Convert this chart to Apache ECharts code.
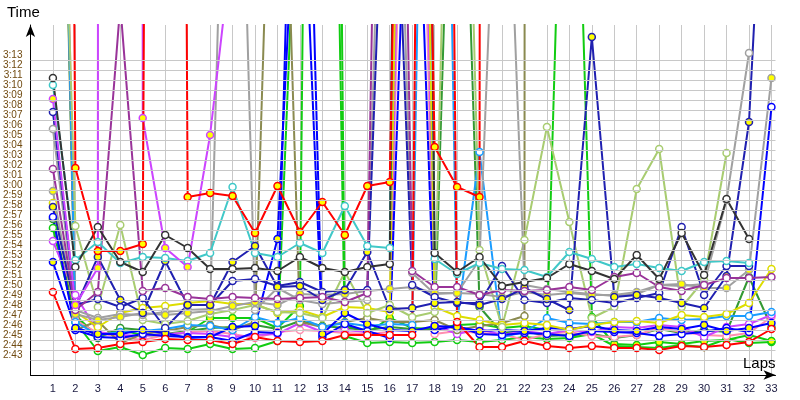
<!DOCTYPE html>
<html>
<head>
<meta charset="utf-8">
<script src="https://cdn.jsdelivr.net/npm/echarts@6.0.0/dist/echarts.min.js"></script>
<style>
  html, body { margin: 0; padding: 0; background: #fff; }
  #chart { width: 800px; height: 400px; }
</style>
</head>
<body>
<div id="chart"></div>
<script>
// lap numbers (x axis)
const laps = [1, 2, 3, 4, 5, 6, 7, 8, 9, 10, 11, 12, 13, 14, 15, 16, 17, 18, 19, 20, 21, 22, 23, 24, 25, 26, 27, 28, 29, 30, 31, 32, 33]

// y tick labels, in seconds (2:43 .. 3:13)
const timeTicks = [163, 164, 165, 166, 167, 168, 169, 170, 171, 172, 173, 174, 175, 176, 177, 178, 179, 180, 181, 182, 183, 184, 185, 186, 187, 188, 189, 190, 191, 192, 193]

// lap times in seconds, one array per car (pit laps run off the top)
const redWhite = [169.8, 164.1, 164.2, 164.6, 164.8, 165.1, 165.0, 165.0, 164.6, 165.3, 164.9, 164.8, 164.9, 165.5, 165.5, 165.5, 165.5, 400, 166.8, 164.3, 164.3, 164.9, 164.4, 164.2, 164.4, 164.2, 164.2, 164.0, 164.4, 164.3, 164.5, 164.8, 166.1]
const redYellow = [500, 182.2, 173.9, 173.9, 174.6, 600, 179.3, 179.7, 179.4, 175.7, 180.4, 175.8, 178.8, 175.5, 180.4, 180.8, 300, 184.3, 180.3, 179.3, 3000, null, null, null, null, null, null, null, null, null, null, null, null]
const greenWhite = [176.2, 166.8, 163.9, 164.3, 163.5, 164.2, 164.1, 164.6, 164.1, 164.2, 164.9, 220, 300, 165.4, 164.7, 164.8, 164.7, 164.8, 165.0, 164.8, 165.0, 165.3, 165.1, 165.2, 165.6, 164.4, 164.3, 164.2, 164.5, 164.3, 165.1, 164.7, 164.8]
const greenYellow = [265, 167.5, 165.3, 166.0, 165.5, 165.4, 165.8, 167.2, 167.2, 167.2, 166.2, 168.4, 400, 166.5, 165.7, 167.2, 166.2, 166.1, 166.5, 166.6, 166.2, 166.4, 166.0, 243, 167.3, 164.6, 164.5, 164.8, 164.6, 164.9, 165.0, 165.5, 164.9]
const blueWhite = [177.3, 166.0, 165.3, 165.2, 165.6, 165.4, 165.3, 165.3, 164.9, 165.8, 165.7, 250, 165.3, 166.6, 165.9, 165.2, 230, 166.0, 166.4, 165.6, 165.5, 165.7, 165.6, 165.4, 165.9, 165.8, 165.7, 165.4, 165.6, 165.8, 166.2, 165.8, 188.3]
const blueYellow = [172.8, 166.2, 165.6, 165.6, 166.0, 165.7, 165.2, 165.3, 166.3, 166.4, 175.1, 220, 165.6, 167.7, 166.6, 166.0, 165.9, 166.4, 166.3, 165.9, 166.0, 165.9, 166.2, 166.1, 166.4, 166.0, 165.9, 166.3, 166.1, 166.5, 165.9, 166.2, 166.7]
const navyWhite = [187.8, 168.5, 169.1, 168.3, 169.2, 166.2, 168.5, 168.5, 170.9, 171.1, 170.4, 170.8, 169.8, 170.0, 170.0, 230, 170.5, 169.3, 168.7, 168.7, 172.4, 169.0, 168.7, 169.2, 169.0, 168.7, 169.2, 169.7, 176.3, 169.5, 172.4, 172.4, null]
const navyYellow = [178.3, 168.2, 173.3, 169.0, 167.7, 172.9, 168.5, 168.5, 172.8, 174.4, 170.3, 170.4, 169.0, 170.0, 173.8, 168.1, 168.2, 168.7, 168.8, 168.5, 169.1, 170.2, 169.1, 168.0, 195.3, 169.3, 169.5, 169.2, 168.7, 168.2, 171.4, 186.8, 230]
const cyanWhite = [190.5, 173.0, 174.8, 172.7, 173.3, 173.2, 172.9, 173.7, 180.3, 173.7, 173.3, 174.7, 173.7, 178.4, 174.4, 174.2, 400, 173.1, 171.6, 172.7, 172.1, 172.0, 171.3, 173.8, 173.1, 172.3, 172.6, 172.2, 171.9, 172.8, 172.9, 172.7, null]
const violetWhite = [174.9, 169.5, 165.8, 165.5, 165.4, 165.6, 165.7, 165.6, 165.3, 165.5, 165.6, 166.7, 165.8, 166.0, 165.8, 165.4, 280, 166.5, 165.6, 166.1, 165.5, 165.9, 165.6, 166.0, 165.8, 166.3, 166.2, 166.5, 166.3, 165.3, 166.3, 166.6, 167.5]
const violetYellow = [189.1, 168.5, 172.2, 5000, 187.2, 174.2, 172.3, 185.5, 205, null, null, null, null, null, null, null, null, null, null, null, null, null, null, null, null, null, null, null, null, null, null, null, null]
const purpleWhite = [182.1, 168.0, 169.8, 198.5, 169.9, 170.2, 169.3, 169.1, 169.3, 169.2, 169.1, 169.2, 169.3, 168.8, 169.7, 300, 171.9, 170.3, 170.3, 169.5, 170.0, 169.9, 170.0, 170.3, 170.0, 171.3, 171.7, 170.3, 169.9, 170.5, 171.2, 171.2, 171.3]
const blackWhite = [191.2, 172.3, 176.3, 172.8, 171.8, 175.5, 174.2, 172.1, 172.1, 172.2, 171.9, 173.3, 172.2, 171.8, 172.3, 172.6, 400, 173.7, 171.8, 173.3, 170.4, 170.8, 171.2, 172.6, 171.9, 171.1, 173.5, 171.1, 175.7, 171.5, 179.1, 175.1, null]
const greyWhite = [186.1, 168.0, 167.2, 167.6, 167.5, 167.8, 168.0, 168.1, 250, 168.0, 170.2, 169.0, 168.6, 168.8, 169.0, 250, 171.7, 169.6, 169.7, 173.0, 230, 170.5, 170.1, 169.8, 169.6, 169.4, 169.6, 170.5, 170.4, 170.6, 179.0, 193.7, null]
const greyYellow = [179.9, 167.6, 167.0, 167.3, 167.7, 167.5, 167.7, 167.9, 168.4, 168.8, 168.5, 169.6, 169.5, 169.6, 169.9, 170.1, 170.3, 169.7, 169.7, 169.6, 169.3, 169.8, 169.5, 169.7, 169.5, 169.5, 169.8, 170.5, 170.6, 170.2, 170.2, 172.0, 191.2]
const limeWhite = [250, 176.4, 168.3, 176.5, 167.0, 166.6, 166.9, 167.6, 168.0, 168.5, 167.8, 167.7, 167.2, 171.8, 167.7, 168.5, 167.3, 167.8, 260, 174.0, 166.3, 175.0, 186.3, 176.8, 167.2, 168.3, 180.1, 184.1, 168.3, 171.0, 183.7, null, null]
const oliveWhite = [265, 166.0, 166.9, 164.7, 165.6, 165.9, 166.3, 166.5, 166.0, 166.8, 240, 166.8, 166.3, 166.8, 167.2, 166.8, 166.8, 167.0, 166.0, 166.4, 166.7, 167.4, 5000, null, null, null, null, null, null, null, null, null, null]
const yellowWhite = [178.7, 167.8, 166.3, 167.7, 168.2, 168.4, 168.7, 168.9, 168.6, 168.6, 167.7, 168.0, 167.3, 168.3, 168.2, 167.8, 300, 168.3, 167.4, 167.0, 166.5, 166.7, 166.5, 166.0, 166.5, 166.8, 166.9, 166.7, 167.5, 167.3, 167.6, 168.7, 172.1]
const skyWhite = [270, 166.8, 165.5, 165.8, 165.9, 166.1, 166.5, 166.4, 166.0, 167.3, 166.7, 167.2, 166.3, 166.7, 166.4, 166.6, 166.5, 300, 166.8, 183.8, 165.3, 165.8, 167.2, 166.7, 166.6, 166.8, 166.8, 167.2, 167.0, 167.1, 167.4, 167.4, 167.8]
const pinkWhite = [280, 167.0, 165.7, 165.3, 165.0, 165.5, 165.8, 165.9, 165.6, 165.2, 165.8, 166.0, 165.9, 165.7, 165.6, 165.8, 260, 165.6, 165.9, 165.7, 165.6, 165.0, 165.6, 165.8, 165.4, 165.3, 165.5, 166.2, 165.8, 165.5, 165.4, 165.7, 167.3]
const darkGreenWhite = [177.1, 167.2, 165.2, 166.2, 166.0, 165.6, 165.9, 166.2, 166.3, 166.5, 166.1, 166.9, 166.4, 166.2, 166.0, 166.3, 166.1, 166.0, 240, 168.3, 165.7, 165.9, 165.4, 165.5, 165.6, 165.2, 165.5, 166.1, 165.7, 166.0, 165.8, 171.3, 166.3]

// line colour + marker fill per car
const cars = [
  { values: greenWhite, color: '#11cc11', fill: '#ffffff' },
  { values: greenYellow, color: '#11cc11', fill: '#ffff00' },
  { values: darkGreenWhite, color: '#339933', fill: '#ffffff' },
  { values: pinkWhite, color: '#ff8fb0', fill: '#ffffff' },
  { values: violetWhite, color: '#cc44ff', fill: '#ffffff' },
  { values: oliveWhite, color: '#8a8a50', fill: '#ffffff' },
  { values: skyWhite, color: '#1a9cff', fill: '#ffffff' },
  { values: blueWhite, color: '#0000ff', fill: '#ffffff' },
  { values: blueYellow, color: '#0000ff', fill: '#ffff00' },
  { values: yellowWhite, color: '#dddd00', fill: '#ffffff' },
  { values: limeWhite, color: '#a8cc70', fill: '#ffffff' },
  { values: greyWhite, color: '#a0a0a0', fill: '#ffffff' },
  { values: greyYellow, color: '#a0a0a0', fill: '#ffff00' },
  { values: navyWhite, color: '#2020b0', fill: '#ffffff' },
  { values: navyYellow, color: '#2020b0', fill: '#ffff00' },
  { values: purpleWhite, color: '#993399', fill: '#ffffff' },
  { values: cyanWhite, color: '#40c8c8', fill: '#ffffff' },
  { values: blackWhite, color: '#333333', fill: '#ffffff' },
  { values: violetYellow, color: '#cc44ff', fill: '#ffff00' },
  { values: redYellow, color: '#ff0000', fill: '#ffff00' },
  { values: redWhite, color: '#ff0000', fill: '#ffffff' }
]

const fmtTime = (v) => {
  const s = Math.round(v)
  return Math.floor(s / 60) + ':' + String(s % 60).padStart(2, '0')
}
const isWhole = (v) => Math.abs(v - Math.round(v)) < 1e-6

const chart = echarts.init(document.getElementById('chart'), null, { renderer: 'canvas' })

// horizontal grid lines live on an empty series so they sit under the cars
const gridSeries = {
  type: 'line',
  data: [],
  silent: true,
  markLine: {
    silent: true,
    animation: false,
    symbol: ['none', 'none'],
    label: { show: false },
    lineStyle: { color: '#c8c8c8', width: 1, type: 'solid' },
    emphasis: { disabled: true },
    data: timeTicks.map(t => ({ yAxis: t }))
  }
}

const carSeries = cars.map((c) => ({
  type: 'line',
  data: laps.map((lap, i) => [lap, c.values[i] === null ? '-' : c.values[i]]),
  symbol: 'circle',
  symbolSize: 7,
  showAllSymbol: true,
  clip: true,
  lineStyle: { color: c.color, width: 2 },
  itemStyle: { color: c.fill, borderColor: c.color, borderWidth: 1.5 },
  emphasis: { disabled: true }
}))

const titleFont = { fontFamily: 'Liberation Sans', fontSize: 15, fontWeight: 'normal', color: '#000' }

const option = {
  animation: false,
  backgroundColor: '#ffffff',
  title: [
    { text: 'Time', left: 7, top: 5, padding: 0, textStyle: titleFont },
    { text: 'Laps', left: 743, top: 356, padding: 0, textStyle: titleFont }
  ],
  grid: { left: 30, right: 24.5, top: 25, bottom: 25 },
  xAxis: {
    type: 'value',
    min: 0,
    max: 33.18,
    interval: 1,
    axisLine: { lineStyle: { color: '#000', width: 1 }, symbol: ['none', 'arrow'], symbolSize: [7, 12] },
    axisTick: { show: false },
    axisLabel: {
      formatter: (v) => (isWhole(v) && v >= 1 && v <= 33) ? String(Math.round(v)) : '',
      color: '#1a1a40',
      fontFamily: 'Liberation Sans',
      fontSize: 11,
      margin: 8
    },
    splitLine: { show: true, showMinLine: false, showMaxLine: false, lineStyle: { color: '#c8c8c8', width: 1 } }
  },
  yAxis: {
    type: 'value',
    min: 161.5,
    max: 196.5,
    interval: 0.5,
    axisLine: { show: true, lineStyle: { color: '#000', width: 1 }, symbol: ['none', 'arrow'], symbolSize: [7, 12] },
    axisTick: { show: false },
    splitLine: { show: false },
    axisLabel: {
      formatter: (v) => (isWhole(v) && v >= 163 && v <= 193) ? fmtTime(v) : '',
      color: '#704a10',
      fontFamily: 'Liberation Sans',
      fontSize: 10,
      lineHeight: 10,
      verticalAlign: 'bottom',
      margin: 8
    }
  },
  series: [gridSeries].concat(carSeries)
}

chart.setOption(option)
</script>
</body>
</html>
